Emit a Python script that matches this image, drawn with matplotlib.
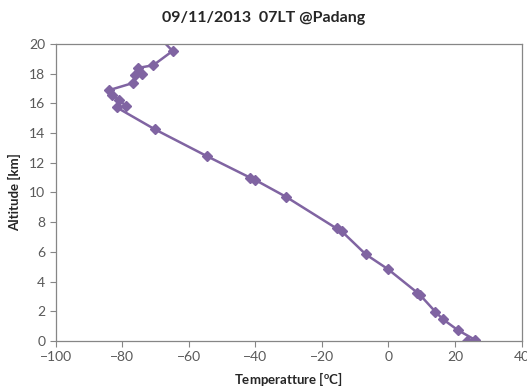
import numpy as np
import matplotlib.pyplot as plt

plt.rcParams['font.family'] = ['Lato', 'DejaVu Sans']

# sounding, surface upwards
temperature = [23.5, 26.1, 20.8, 16.4, 14.1, 9.5, 8.7, -0.1, -6.8, -14.1, -15.6,
               -30.8, -40.1, -41.6, -54.6, -70.2, -81.7, -78.9, -80.9, -83.0,
               -84.0, -76.7, -76.2, -74.0, -75.2, -70.7, -64.9, -70.0]
altitude = [0.0, 0.07, 0.74, 1.46, 1.97, 3.1, 3.25, 4.83, 5.83, 7.40, 7.58,
            9.71, 10.85, 11.0, 12.45, 14.25, 15.73, 15.83, 16.22, 16.55,
            16.89, 17.38, 17.90, 18.01, 18.39, 18.57, 19.53, 20.7]

xticks = np.arange(-100, 41, 20)
yticks = np.arange(0, 21, 2)

purple = '#8064A2'
grey = '#868686'
txt = '#595959'

fig = plt.figure(figsize=(5.27, 3.89), dpi=100)
ax = fig.add_axes([0.1059, 0.1234, 0.8837, 0.7635])

ax.plot(temperature, altitude, color=purple, lw=1.8, marker='D', ms=5,
        mec=purple, mfc=purple, clip_on=True)

ax.set_xlim(-100, 40)
ax.set_ylim(0, 20)
ax.set_xticks(xticks)
ax.set_yticks(yticks)
ax.tick_params(colors=grey, labelcolor=txt, labelsize=10, length=4, width=0.8)

for s in ax.spines.values():
    s.set_color(grey)
    s.set_linewidth(0.9)

ax.set_xlabel('Temperatture [$^{\\mathregular{o}}$C]', fontsize=9.5,
              fontweight='bold', color='#262626', labelpad=5)
ax.set_ylabel('Altitude [km]', fontsize=9.5, fontweight='bold',
              color='#262626', labelpad=6)
fig.text(0.5, 0.955, '09/11/2013  07LT @Padang', ha='center', va='center',
         fontsize=11.5, fontweight='bold', color='#262626')

fig.savefig('out.png', dpi=100)
